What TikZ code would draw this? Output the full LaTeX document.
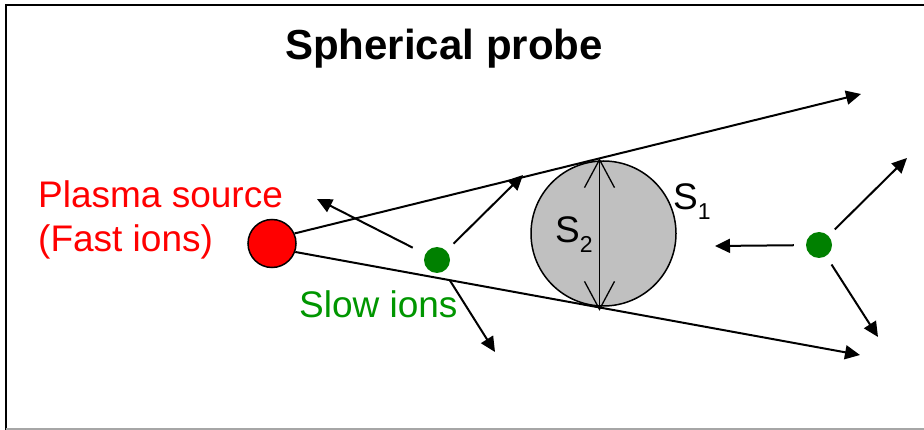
\documentclass[tikz,border=0pt]{standalone}
\usepackage{fontspec}
\setmainfont{Liberation Sans}
\usetikzlibrary{arrows.meta}

\definecolor{srcred}{RGB}{255,0,0}
\definecolor{iongreen}{RGB}{0,128,0}
\definecolor{labelgreen}{RGB}{0,150,0}
\definecolor{probegray}{RGB}{192,192,192}

\newcommand{\lowidx}[1]{\raisebox{-10pt}{\fontsize{23}{23}\selectfont #1}}

\begin{document}
\begin{tikzpicture}[
      x=1pt, y=-1pt,
      big/.style={font=\fontsize{37}{44}\selectfont, inner sep=0pt},
      src/.style={circle, draw=black, fill=srcred, line width=1.5pt, minimum size=48pt, inner sep=0pt},
      ion/.style={circle, fill=iongreen, minimum size=26pt, inner sep=0pt},
      probe/.style={circle, draw=black, fill=probegray, line width=1.5pt, minimum size=145pt, inner sep=0pt},
      arrow/.style={-{Triangle[length=15pt, width=14pt]}, line width=2pt},
      barb/.tip={Straight Barb[length=28pt, width=30pt]},
      diam/.style={barb-barb, line width=1.3pt}
    ]
    \useasboundingbox (0,0) rectangle (924,430);

    % frame
    \draw[line width=2.5pt] (924,5) -- (6,5) -- (6,430);
    \draw[gray!70, line width=1.5pt] (6,429) -- (924,429);

    \node[inner sep=0pt, anchor=base, font=\fontsize{42}{48}\selectfont\bfseries] (title) at (444,60) {Spherical probe};

    \node[src] (source) at (272,243.5) {};
    \node[probe] (sphere) at (603.5,233.5) {};
    \node[ion] (slowA) at (437,260) {};
    \node[ion] (slowB) at (819,245) {};

    \node[big, text=srcred, align=left, anchor=base west] (srclabel) at (38,252) {Plasma source\\(Fast ions)};
    \node[big, text=labelgreen, anchor=base west] (slowlabel) at (299,318) {Slow ions};
    \node[big, anchor=base west] (stwo) at (555,243) {S\lowidx{2}};
    \node[big, anchor=base west] (sone) at (673,210) {S\lowidx{1}};

    \coordinate (fastA) at (861,94);
    \coordinate (fastB) at (860,355);
    \coordinate (upA) at (317,199);
    \coordinate (rtA) at (523,175);
    \coordinate (dnA) at (495,352);
    \coordinate (lfB) at (715,246);
    \coordinate (rtB) at (907,158);
    \coordinate (dnB) at (878,337);

    % fast ions
    \draw[arrow] (source.24) -- (fastA);
    \draw[arrow] (source.-20) -- (fastB);

    % slow ions
    \draw[arrow, shorten <=14pt] (slowA) -- (upA);
    \draw[arrow, shorten <=10pt] (slowA) -- (rtA);
    \draw[arrow, shorten <=11pt] (slowA) -- (dnA);
    \draw[arrow, shorten <=12pt] (slowB) -- (lfB);
    \draw[arrow, shorten <=9pt] (slowB) -- (rtB);
    \draw[arrow, shorten <=10pt] (slowB) -- (dnB);

    \draw[diam] ([xshift=-4pt, yshift=2pt]sphere.north) -- ([xshift=-4pt, yshift=-4pt]sphere.south);

  \end{tikzpicture}
\end{document}
